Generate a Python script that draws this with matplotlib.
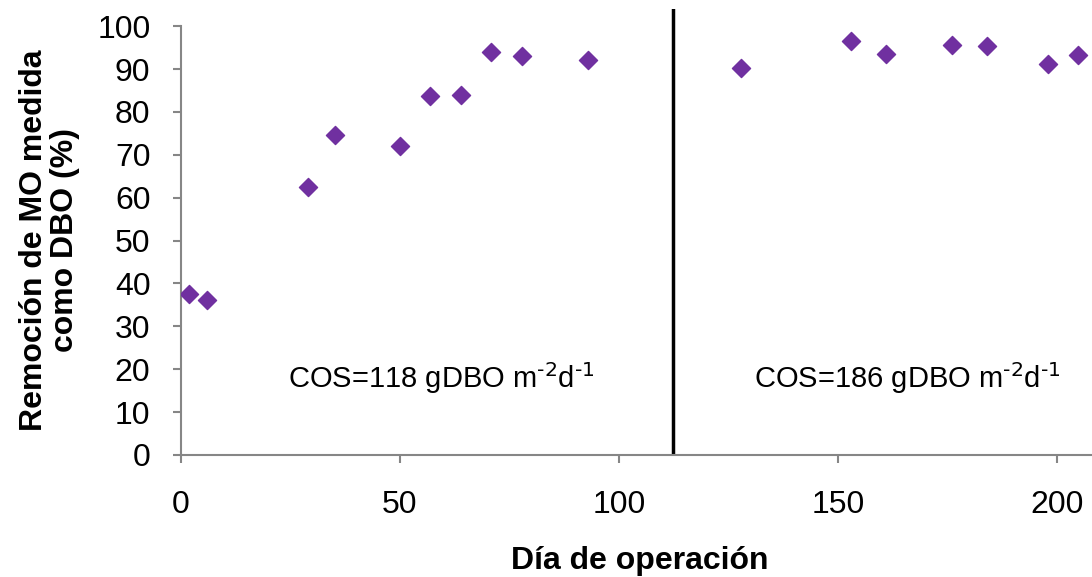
import matplotlib
matplotlib.use('Agg')
import matplotlib.pyplot as plt

plt.rcParams['font.family'] = ['Liberation Sans', 'DejaVu Sans']
plt.rcParams['mathtext.default'] = 'regular'

# data
dia = [1.8, 5.9, 29.0, 35.2, 50.0, 56.8, 63.9, 70.8, 77.9, 92.9,
       127.9, 153.0, 161.0, 176.0, 184.0, 198.0, 204.8]
remocion = [37.5, 36.1, 62.5, 74.6, 72.0, 83.7, 83.9, 93.9, 93.0, 92.1,
            90.2, 96.5, 93.5, 95.6, 95.3, 91.1, 93.3]
dia_cambio = 112.3
etiquetas = [r'COS=118 gDBO m$^{\text{-2}}$d$^{\text{-1}}$',
             r'COS=186 gDBO m$^{\text{-2}}$d$^{\text{-1}}$']
pos_etiquetas = [(59.4, 18.0), (165.8, 18.0)]

gris = '#868686'
fig = plt.figure(figsize=(10.92, 5.77), dpi=100)
ax = fig.add_axes([181 / 1092, 122 / 577, 1 - 181 / 1092, (455 - 9) / 577])

ax.scatter(dia, remocion, marker='D', s=85, color='#7030A0', zorder=3)
ax.plot([dia_cambio, dia_cambio], [0.7, 103.7], color='black', lw=2.5, zorder=2)
for txt, (x, y) in zip(etiquetas, pos_etiquetas):
    ax.text(x, y, txt, ha='center', va='center', fontsize=21)

ax.set_xlim(0, 208)
ax.set_ylim(0, 104)
ax.set_xticks([0, 50, 100, 150, 200])
ax.set_yticks(range(0, 101, 10))
ax.spines['top'].set_visible(False)
ax.spines['right'].set_visible(False)
ax.spines['left'].set_bounds(0, 100)
for s in ['left', 'bottom']:
    ax.spines[s].set_color(gris)
    ax.spines[s].set_linewidth(1.5)
ax.tick_params(colors=gris, labelcolor='black', labelsize=23, width=1.5, length=6)
ax.tick_params(axis='x', pad=19)
ax.tick_params(axis='y', pad=16)

ax.set_xlabel('Día de operación', fontsize=23, fontweight='bold')
ax.xaxis.set_label_coords(0.504, -0.205)
ax.set_ylabel('Remoción de MO medida\ncomo DBO (%)', fontsize=23, fontweight='bold',
              linespacing=1.05)
ax.yaxis.set_label_coords(-0.111, 0.482)

fig.savefig('out.png', dpi=100)
plt.close()
